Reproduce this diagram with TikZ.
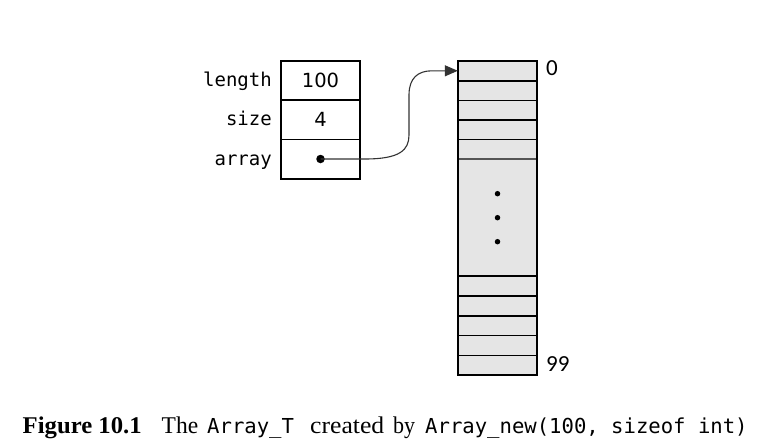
\documentclass[tikz,border=0pt]{standalone}
\usepackage{graphicx}
\usepackage{fontspec}
\setmainfont{Liberation Serif}
\newfontfamily\monof{DejaVu Sans Mono}
\newfontfamily\numf{DejaVu Sans}
\newfontfamily\idxf{Carlito}
\usetikzlibrary{arrows.meta}
\definecolor{cellgray}{HTML}{E5E5E5}
\definecolor{midline}{HTML}{555555}
\definecolor{ptrline}{HTML}{333333}
\newcommand{\fitw}[2]{\resizebox{#1}{\height}{#2}}
\begin{document}
\begin{tikzpicture}[x=1pt,y=-1pt,
  field/.style={draw, line width=1.5pt, minimum width=79pt, minimum height=39.3pt, inner sep=0pt},
  cell/.style={fill=cellgray, minimum width=79pt, inner sep=0pt, draw=none},
  lbl/.style={anchor=base east, font=\monof\fontsize{19}{19}\selectfont, inner sep=0pt},
  val/.style={anchor=base, font=\numf\fontsize{19.5}{19.5}\selectfont, inner sep=0pt},
  idx/.style={anchor=base west, font=\idxf\fontsize{23}{23}\selectfont, inner sep=0pt},
  divider/.style={line width=1.5pt},
  ellip/.style={circle, fill=black, inner sep=0pt, minimum size=5.5pt},
  ptr/.style={circle, fill=black, inner sep=0pt, minimum size=8.5pt},
  ptrarrow/.style={draw=ptrline, line width=1.1pt, -{Triangle[length=13pt,width=11pt]}},
  capserif/.style={anchor=base west, inner sep=0pt, font=\fontsize{24}{24}\selectfont},
  capmono/.style={anchor=base west, inner sep=0pt, font=\monof\fontsize{20.6}{20.6}\selectfont}
]
\useasboundingbox (0,0) rectangle (764,447);
\fill[white] (0,0) rectangle (764,447);

% left structure
\node[field] (len) at (320.5,80.5) {};
\node[field] (siz) at (320.5,119.8) {};
\node[field] (arr) at (320.5,159.1) {};
\node[lbl] (llen) at (272,86.5) {length};
\node[lbl] (lsiz) at (272,125.8) {size};
\node[lbl] (larr) at (272,165.1) {array};
\node[val] (v100) at (320.5,87) {100};
\node[val] (v4) at (320.5,126.3) {4};
\node[ptr] (dot) at (320.5,159) {};

% right array column
\foreach \i/\y in {0/70.8,1/90.4,2/110,3/129.6,4/149.2}
  \node[cell, minimum height=19.6pt] (t\i) at (497.5,\y) {};
\node[cell, minimum height=117pt] (mid) at (497.5,217.5) {};
\foreach \i/\y in {0/285.9,1/305.7,2/325.5,3/345.3,4/365.1}
  \node[cell, minimum height=19.8pt] (b\i) at (497.5,\y) {};

\foreach \n in {t0,t1,t2,t3,b0,b1,b2,b3}
  \draw[divider] (\n.south west) -- (\n.south east);
\draw[divider, draw=midline] (t4.south west) -- (t4.south east);
\draw[divider] (mid.south west) -- (mid.south east);
\draw[divider] (t0.north west) rectangle (b4.south east);

\node[ellip] (e1) at (497.5,193.7) {};
\node[ellip] (e2) at (497.5,217.7) {};
\node[ellip] (e3) at (497.5,241.7) {};

\node[idx] (i0) at (546,75.9) {0};
\node[idx] (i99) at (546,371.9) {99};

% pointer
\draw[ptrarrow] (dot.center) -- (365,159)
  .. controls (400,159) and (409,150) .. (409,135) -- (409,95)
  .. controls (409,78) and (418,70.8) .. (432,70.8) -- (t0.west);

% caption
\node[capserif, font=\fontsize{24}{24}\selectfont\bfseries] (fig) at (22.5,433) {\fitw{119pt}{Figure 10.1}};
\node[capserif] (the) at (161.5,433) {\fitw{36.5pt}{The}};
\node[capmono] (atype) at (207,433) {Array\_T};
\node[capserif] (created) at (310,433) {\fitw{74pt}{created}};
\node[capserif] (by) at (393,433) {\fitw{22pt}{by}};
\node[capmono] (anew) at (425,433) {Array\_new(100, sizeof int)};
\end{tikzpicture}
\end{document}
